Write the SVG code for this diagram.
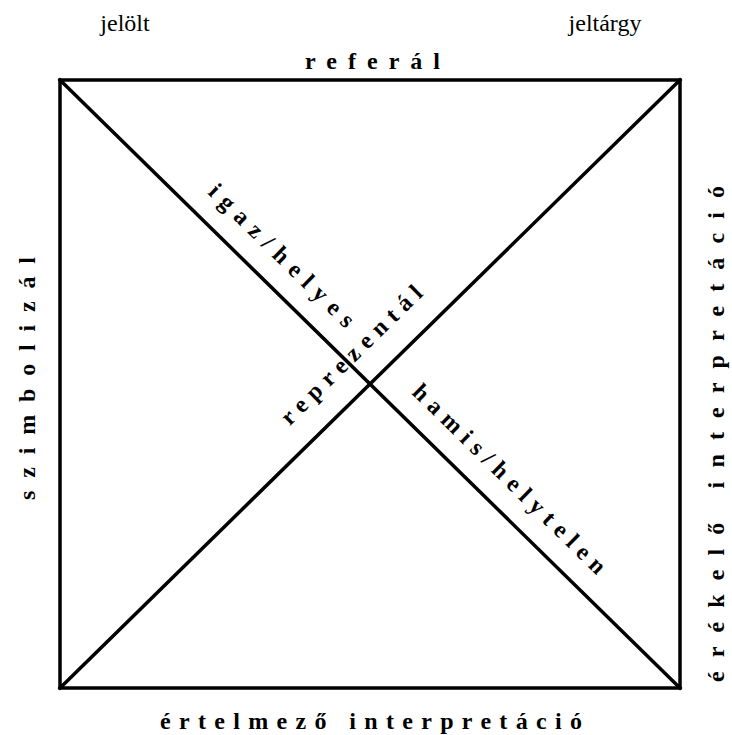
<svg xmlns="http://www.w3.org/2000/svg" width="732" height="735" viewBox="0 0 732 735">
<style>
.ln{stroke:#000;stroke-width:3.5;fill:none;stroke-linecap:square}
.t{font-family:"Liberation Serif","Times New Roman",serif;font-size:24px;fill:#000}
.s{font-weight:bold;font-size:24px}
</style>
<rect width="732" height="735" fill="#fff"/>
<g id="connectors">
<rect class="ln" x="60" y="80" width="620" height="608"/>
<line class="ln" x1="60" y1="80" x2="680" y2="688"/>
<line class="ln" x1="60" y1="688" x2="680" y2="80"/>
</g>
<g id="jelolt"><text class="t" x="125" y="31" text-anchor="middle">jelölt</text></g>
<g id="jeltargy"><text class="t" x="605" y="31" text-anchor="middle">jeltárgy</text></g>
<g id="referal"><text class="t s" x="305" y="69" textLength="135" lengthAdjust="spacing">referál</text></g>
<g id="szimbolizal"><text class="t s" transform="translate(35,500) rotate(-90)" x="0" y="0" textLength="243" lengthAdjust="spacing">szimbolizál</text></g>
<g id="erekelo"><text class="t s" transform="translate(724,682) rotate(-90)" x="0" y="0" textLength="496" lengthAdjust="spacing">érékelő interpretáció</text></g>
<g id="ertelmezo"><text class="t s" x="160" y="729" textLength="422" lengthAdjust="spacing">értelmező interpretáció</text></g>
<g id="igaz"><text class="t s" transform="translate(370,384) rotate(44.44)" x="-250" y="-22" textLength="194" lengthAdjust="spacing">igaz/helyes</text></g>
<g id="hamis"><text class="t s" transform="translate(370,384) rotate(44.44)" x="36" y="-22" textLength="260" lengthAdjust="spacing">hamis/helytelen</text></g>
<g id="reprezental"><text class="t s" transform="translate(370,384) rotate(-44.44)" x="-87" y="-26" textLength="188" lengthAdjust="spacing">reprezentál</text></g>
</svg>
